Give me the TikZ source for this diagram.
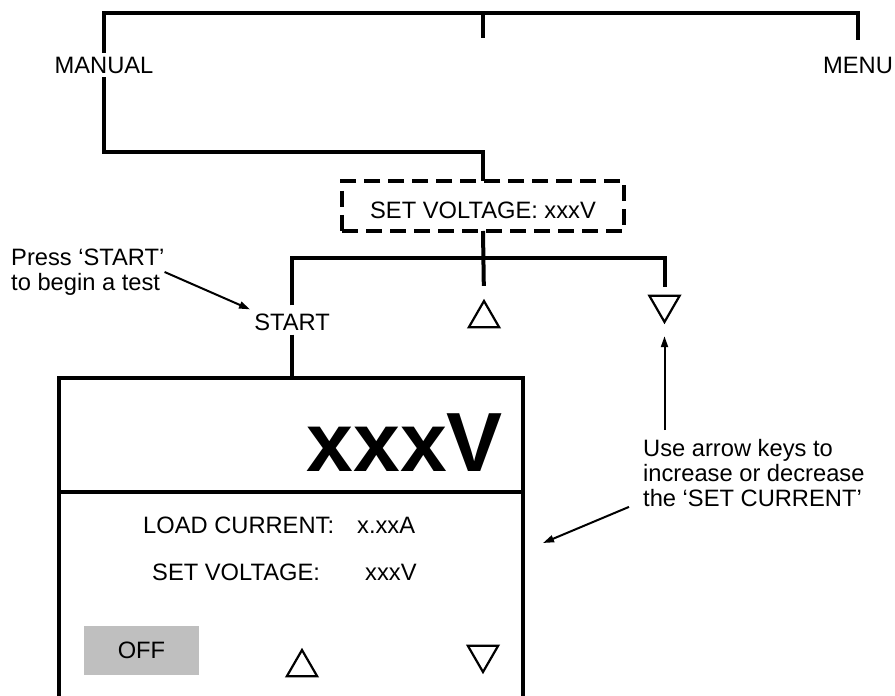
\documentclass[tikz,border=0pt]{standalone}
\usepackage{fontspec}
\setmainfont{Liberation Sans}
\usetikzlibrary{arrows.meta,shapes.geometric}

\begin{document}
\begin{tikzpicture}[x=1pt, y=1pt, inner sep=4pt,
  font=\fontsize{23.7}{25}\selectfont,
  wire/.style={line width=4pt},
  pointer/.style={line width=2pt, -{Triangle[length=11pt,width=7pt]}},
  softkey/.style={draw, regular polygon, regular polygon sides=3, minimum size=35pt, inner sep=0pt, line width=2.2pt},
  softkeydn/.style={softkey, shape border rotate=180},
  panel/.style={draw, line width=4pt, minimum width=464pt, inner sep=0pt, outer sep=0pt},
  bare/.style={inner sep=0pt, anchor=west}]
\useasboundingbox (0,0) rectangle (895,696);
\node (manual) at (104,631) {MANUAL};
\node (menu) at (858,631) {MENU};
\coordinate (bus) at (483,683);
\coordinate (bustick) at (483,658);
\coordinate (trunk) at (483,544);
\coordinate (split) at (483,438);
\node[draw, line width=4pt, outer sep=0pt, dash pattern=on 16pt off 8pt, minimum width=282pt, minimum height=50pt,
  text height=25pt, text depth=0pt] (setv) at (483,490) {SET VOLTAGE: xxxV};
\node (start) at (292,374) {START};
\node[softkey] (upkey) at (484,377.5) {};
\node[softkeydn] (downkey) at (664.5,391.5) {};
\draw[wire] (manual.north) |- (bus) -| ([yshift=13pt]menu.north);
\draw[wire] (bus) -- (bustick);
\draw[wire] (manual.south) |- (trunk) -- (setv.north);
\draw[wire, shorten >=13pt] (setv.south) -- (upkey.north);
\draw[wire, shorten <=4pt, shorten >=8pt] (start.north) |- (split) -| (downkey.north);

\node[panel, minimum height=114pt, anchor=south west] (readout) at (59,204) {};
\node[panel, minimum height=214pt, anchor=north west] (keypad) at (59,204) {};
\draw[wire] (start.south) -- (start.south |- readout.north);
\node[font=\bfseries\fontsize{84}{84}\selectfont, anchor=base east, inner sep=0pt] (reading) at (503,224) {xxxV};
\node[bare] (loadlbl) at (143,171) {LOAD CURRENT:};
\node[bare] (loadval) at (357,171) {x.xxA};
\node[bare] (setlbl) at (152,124) {SET VOLTAGE:};
\node[bare] (setval) at (365,124) {xxxV};
\node[fill=black!25, minimum width=115pt, minimum height=49pt] (off) at (141.5,45.5) {OFF};
\node[softkey] (padup) at (302,28.5) {};
\node[softkeydn] (paddown) at (483,41.5) {};

\node[bare, align=left] (press) at (11,424) {Press ‘START’\\to begin a test};
\draw[pointer] (press.east) -- (start.north west);
\node[bare, align=left] (note) at (643,223) {Use arrow keys to\\increase or decrease\\the ‘SET CURRENT’};
\coordinate (panelpt) at (543,153);
\draw[pointer, shorten >=12pt] (note.north -| downkey.south) ++(0,9) -- (downkey.south);
\draw[pointer] (note.south west) ++(-14,0) -- (panelpt);
\end{tikzpicture}
\end{document}
